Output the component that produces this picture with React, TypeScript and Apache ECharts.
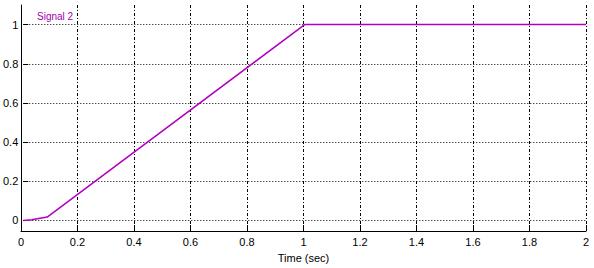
import React, { useEffect, useRef } from "react";
import * as echarts from "echarts";

const seriesName = "Signal 2";
const timeValues = [0, 0.03, 0.085, 1, 2];
const signalValues = [0, 0.003, 0.017, 1, 1];
const xAxisName = "Time (sec)";

export default function App() {
  const ref = useRef<HTMLDivElement>(null);
  useEffect(() => {
    if (!ref.current) return;
    const chart = echarts.init(ref.current, null, { renderer: "svg" });
    const font = "Liberation Sans";
    const data = timeValues.map((t, i) => [t, signalValues[i]]);
    chart.setOption({
      animation: false,
      backgroundColor: "#ffffff",
      grid: [
        { left: 21, right: 8, top: 5, bottom: 28 },
        { left: 21, right: 8, top: 24.6, bottom: 47.6 },
      ],
      xAxis: [
        {
          gridIndex: 0,
          type: "value",
          min: 0,
          max: 2,
          interval: 0.2,
          name: xAxisName,
          nameLocation: "middle",
          nameGap: 21,
          nameTextStyle: { color: "#000", fontFamily: font, fontSize: 11 },
          axisLine: { show: true, onZero: false, lineStyle: { color: "#000", width: 1 } },
          axisTick: { show: true, inside: true, length: 6, lineStyle: { color: "#000" } },
          axisLabel: {
            color: "#000",
            fontFamily: font,
            fontSize: 11,
            margin: 5,
            formatter: (v: number) => String(Math.round(v * 10) / 10),
          },
          splitLine: { show: true, lineStyle: { color: "#000", type: [3, 2, 1, 2], width: 1 } },
        },
        {
          gridIndex: 1,
          type: "value",
          min: 0,
          max: 2,
          show: false,
          axisLine: { onZero: false },
        },
      ],
      yAxis: [
        {
          gridIndex: 0,
          type: "value",
          min: -0.1,
          max: 1.1,
          axisLine: { show: true, onZero: false, lineStyle: { color: "#000", width: 1 } },
          axisTick: { show: false },
          axisLabel: { show: false },
          splitLine: { show: false },
        },
        {
          gridIndex: 1,
          type: "value",
          min: 0,
          max: 1,
          interval: 0.2,
          axisLine: { show: false, onZero: false },
          axisTick: { show: true, inside: true, length: 5, lineStyle: { color: "#000" } },
          axisLabel: {
            color: "#000",
            fontFamily: font,
            fontSize: 11,
            margin: 5,
            formatter: (v: number) => String(Math.round(v * 10) / 10),
          },
          splitLine: { show: true, lineStyle: { color: "#000", type: [1, 2], width: 1 } },
        },
      ],
      series: [
        {
          name: seriesName,
          type: "line",
          xAxisIndex: 1,
          yAxisIndex: 1,
          data,
          clip: false,
          showSymbol: false,
          lineStyle: { color: "#b000c0", width: 1.5 },
          z: 5,
        },
      ],
      graphic: [
        {
          type: "text",
          left: 37,
          top: 11,
          style: {
            text: seriesName,
            fill: "#a000b0",
            font: "10px " + font,
          },
        },
      ],
    });
    return () => chart.dispose();
  }, []);
  return (
    <div
      ref={ref}
      style={{ position: "fixed", left: 0, top: 0, width: 594, height: 268 }}
    />
  );
}
